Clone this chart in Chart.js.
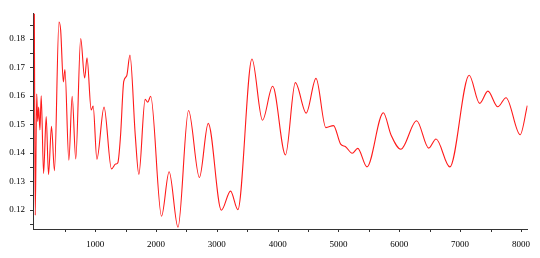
<!DOCTYPE html>
<html>
<head>
<meta charset="utf-8">
<script src="https://cdn.jsdelivr.net/npm/chart.js@4/dist/chart.umd.min.js"></script>
<style>
html,body{margin:0;padding:0;background:#fff;}
#wrap{width:540px;height:258px;}
</style>
</head>
<body>
<div id="wrap"><canvas id="c" width="540" height="258"></canvas></div>
<script>
// x positions (sample index) and series values
const xs = [0, 15, 39, 55, 71, 92, 113, 152, 195, 233, 282, 331, 405, 433, 477, 503, 567, 622, 681, 762, 827, 866, 935, 967, 1028, 1146, 1268, 1336, 1373, 1417, 1470, 1519, 1572, 1660, 1718, 1822, 1864, 1913, 2091, 2216, 2362, 2535, 2714, 2859, 3075, 3226, 3346, 3578, 3751, 3918, 4129, 4291, 4470, 4631, 4793, 4918, 5036, 5117, 5226, 5317, 5469, 5738, 5863, 6026, 6285, 6484, 6604, 6831, 7149, 7322, 7457, 7619, 7755, 7987, 8105];
const ys = [0.1889, 0.118, 0.1607, 0.151, 0.156, 0.148, 0.160, 0.1327, 0.1527, 0.1323, 0.1493, 0.1337, 0.1859, 0.183, 0.1648, 0.1692, 0.1374, 0.1598, 0.1378, 0.1801, 0.1662, 0.1733, 0.155, 0.1564, 0.1377, 0.156, 0.1343, 0.136, 0.1365, 0.1459, 0.165, 0.167, 0.1743, 0.1459, 0.1324, 0.1587, 0.1577, 0.1598, 0.1177, 0.1333, 0.1138, 0.1548, 0.1313, 0.1503, 0.1198, 0.1265, 0.120, 0.1729, 0.1514, 0.1633, 0.1392, 0.1646, 0.1539, 0.1661, 0.1488, 0.1495, 0.143, 0.1421, 0.1398, 0.1415, 0.1350, 0.154, 0.1463, 0.1412, 0.1512, 0.1416, 0.1448, 0.1350, 0.1672, 0.1573, 0.1616, 0.1561, 0.1593, 0.1463, 0.1565];
// tick labels
const xTickLabels = [1000, 2000, 3000, 4000, 5000, 6000, 7000, 8000];
const yTickLabels = [0.12, 0.13, 0.14, 0.15, 0.16, 0.17, 0.18];
// tick marks (major + minor)
const xTickMarks = [500, 1000, 1500, 2000, 2500, 3000, 3500, 4000, 4500, 5000, 5500, 6000, 6500, 7000, 7500, 8000];
const yTickMarks = [0.115, 0.12, 0.125, 0.13, 0.135, 0.14, 0.145, 0.15, 0.155, 0.16, 0.165, 0.17, 0.175, 0.18, 0.185];

const axisColor = '#333';
const font = {family: '"Liberation Serif", "Times New Roman", serif', size: 9};

const tickMarks = {
  id: 'tickMarks',
  afterDraw(chart) {
    const {ctx, chartArea: a, scales: {x, y}} = chart;
    ctx.save();
    ctx.strokeStyle = axisColor;
    ctx.lineWidth = 1;
    ctx.beginPath();
    xTickMarks.forEach(v => {
      const px = Math.round(x.getPixelForValue(v)) + 0.5;
      ctx.moveTo(px, a.bottom);
      ctx.lineTo(px, a.bottom + 3);
    });
    yTickMarks.forEach(v => {
      const py = Math.round(y.getPixelForValue(v)) + 0.5;
      ctx.moveTo(a.left, py);
      ctx.lineTo(a.left - 3, py);
    });
    ctx.stroke();
    ctx.restore();
  }
};

new Chart(document.getElementById('c'), {
  type: 'line',
  data: {
    datasets: [{
      data: xs.map((x, i) => ({x: x, y: ys[i]})),
      borderColor: '#ff1a1a',
      borderWidth: 1.1,
      pointRadius: 0,
      fill: false,
      cubicInterpolationMode: 'monotone'
    }]
  },
  options: {
    responsive: false,
    animation: false,
    events: [],
    plugins: {legend: {display: false}, tooltip: {enabled: false}},
    layout: {padding: {top: 6, right: 5, left: 0, bottom: 0}},
    scales: {
      x: {
        type: 'linear',
        min: -22,
        max: 8110,
        afterBuildTicks: s => { s.ticks = xTickLabels.map(v => ({value: v})); },
        afterFit: s => { s.height = 29; },
        grid: {display: false, drawTicks: false},
        border: {display: true, color: axisColor, width: 1},
        ticks: {font: font, color: '#000', padding: 10, maxRotation: 0, autoSkip: false,
                callback: v => String(v)}
      },
      y: {
        type: 'linear',
        min: 0.1132,
        max: 0.1889,
        afterBuildTicks: s => { s.ticks = yTickLabels.map(v => ({value: v})); },
        afterFit: s => { s.width = 33; },
        grid: {display: false, drawTicks: false},
        border: {display: true, color: axisColor, width: 1},
        ticks: {font: font, color: '#000', padding: 8, autoSkip: false,
                callback: v => v.toFixed(2)}
      }
    }
  },
  plugins: [tickMarks]
});
</script>
</body>
</html>
